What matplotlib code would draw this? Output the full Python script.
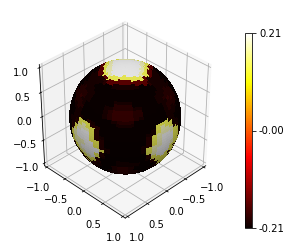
import numpy as np
import matplotlib
matplotlib.use("Agg")
import matplotlib.pyplot as plt
from matplotlib import cm
from matplotlib.colors import Normalize, LightSource

# Surface value levels, one character per 4 px screen cell
LEVEL_ROWS = [
    "0000000000778888770000000000",
    "0000000047899999987400000000",
    "0000000047899999987400000000",
    "0000000147899999987410000000",
    "0000001147899999987411000000",
    "0000011114777777774111100000",
    "0000111112444444444211110000",
    "0002211000011111100001122000",
    "0022211000000000000001122200",
    "0023211000000000000001123200",
    "0022110000000000000000112200",
    "0012100000001111000000012100",
    "0011000000112222110000001100",
    "0011000001223333221000001100",
    "0111000001223333221000001110",
    "0127721000012222100000277720",
    "0278872100000111100000788870",
    "0789987210000000000001789972",
    "0789997210000000000017899977",
    "0789997210000000000127899872",
    "0278999721000000000127899720",
    "0078999721000000001278999720",
    "0027899972100000001278997200",
    "0002789721000000000127777200",
    "0000277210000000000012772000",
    "0000012210001111110001221000",
    "0000001100022332200011000000",
    "0000000000122332210000000000",
    "0000000000012222100000000000",
]
LEVEL_VALUES = [-0.21, -0.2, -0.19, -0.18, -0.155, -0.06, 0.0, 0.14, 0.185, 0.21]
VMIN, VMAX = -0.21, 0.21
CBAR_TICKS = [-0.21, 0.0, 0.21]
CBAR_LABELS = ["-0.21", "-0.00", "0.21"]
AXIS_TICKS = [-1.0, -0.5, 0.0, 0.5, 1.0]
AXIS_LIM = 1.06

ELEV, AZIM = 35, 45
CELL, X0, Y0, CX, CY, RPX = 4, 70, 58, 125.5, 115.5, 56
BRIGHTNESS = 0.89

W, H, DPI = 291, 241, 72
fig = plt.figure(figsize=(W / DPI, H / DPI), dpi=DPI)
ax = fig.add_axes([22 / W, 21 / H, 201 / W, 201 / H], projection="3d")
ax.view_init(elev=ELEV, azim=AZIM)
ax.set_box_aspect((1, 1, 1.05))

N, M = 120, 120
u = np.linspace(2 * np.pi, 0, M + 1)
v = np.linspace(0.02, np.pi - 0.02, N + 1)
X = np.outer(np.sin(v), np.cos(u))
Y = np.outer(np.sin(v), np.sin(u))
Z = np.outer(np.cos(v), np.ones_like(u))

el, az = np.radians(ELEV), np.radians(AZIM)
right = np.array([-np.sin(az), np.cos(az), 0.0])
up = np.array([-np.sin(el) * np.cos(az), -np.sin(el) * np.sin(az), np.cos(el)])
table = np.array([[LEVEL_VALUES[int(ch)] for ch in row] for row in LEVEL_ROWS])
sx = CX + RPX * (right[0] * X + right[1] * Y + right[2] * Z)
sy = CY - RPX * (up[0] * X + up[1] * Y + up[2] * Z)
ci = np.clip(((sx - X0) / CELL).astype(int), 0, table.shape[1] - 1)
ri = np.clip(((sy - Y0) / CELL).astype(int), 0, table.shape[0] - 1)
values = table[ri, ci]

norm = Normalize(VMIN, VMAX)
colors = cm.hot(norm(values))
colors[..., :3] *= BRIGHTNESS
ax.plot_surface(X, Y, Z, facecolors=colors, rcount=N, ccount=M,
                linewidth=0, antialiased=False, shade=True,
                lightsource=LightSource(azdeg=45, altdeg=75))
ax.set_xlim(-AXIS_LIM, AXIS_LIM); ax.set_ylim(-AXIS_LIM, AXIS_LIM); ax.set_zlim(-AXIS_LIM, AXIS_LIM)
ax.set_xticks(AXIS_TICKS); ax.set_yticks(AXIS_TICKS); ax.set_zticks(AXIS_TICKS)
ax.tick_params(labelsize=10)

cax = fig.add_axes([245 / W, 1 - 228 / H, 7 / W, 195 / H])
cb = fig.colorbar(cm.ScalarMappable(norm=norm, cmap="hot"), cax=cax)
cb.set_ticks(CBAR_TICKS)
cb.set_ticklabels(CBAR_LABELS)
cb.ax.tick_params(labelsize=10)
fig.savefig("out.png", dpi=DPI)
